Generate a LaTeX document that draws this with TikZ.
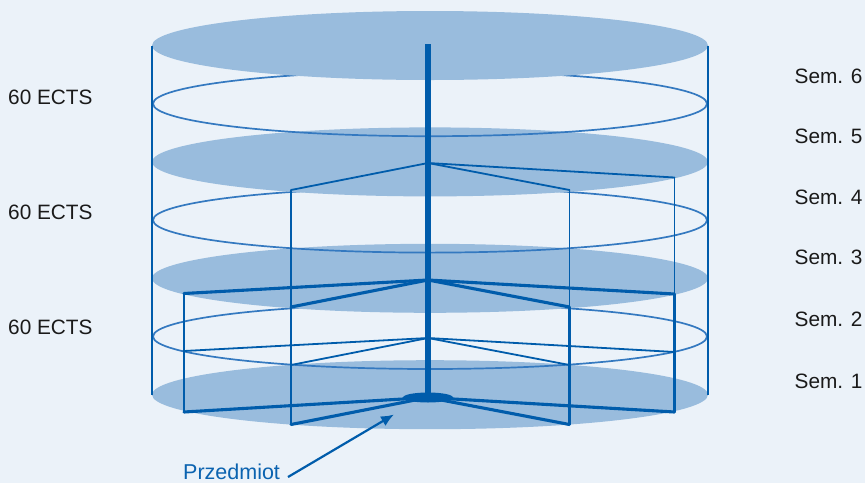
\documentclass[tikz,border=0pt]{standalone}
\usepackage{fontspec}
\setmainfont{Liberation Sans}
\usetikzlibrary{arrows.meta}
\definecolor{bgc}{HTML}{EBF2F9}
\definecolor{discc}{HTML}{99BCDD}
\definecolor{linec}{HTML}{005CAB}
\definecolor{ringc}{HTML}{3479C0}
\definecolor{txtc}{HTML}{1A1A1A}
\definecolor{przc}{HTML}{0B63B0}
\begin{document}
\begin{tikzpicture}[x=1pt,y=-1pt,
  disc/.style={fill=discc, draw=none},
  ring/.style={draw=ringc, line width=1.7pt},
  wall/.style={draw=linec, line width=1.3pt},
  thinedge/.style={draw=linec, line width=1.8pt, line cap=round, line join=round},
  thinvert/.style={draw=linec, line width=1.5pt},
  thickedge/.style={draw=linec, line width=3.1pt, line cap=round, line join=round},
  thickvert/.style={draw=linec, line width=2.5pt},
  lbl/.style={font=\fontsize{20.8}{24}\selectfont, text=txtc, inner sep=0pt, anchor=base west},
]
\fill[bgc] (0,0) rectangle (865,483);
\useasboundingbox (0,0) rectangle (865,483);

% discs and rings, painted from the bottom layer upwards
\fill[disc] (430,394.7) ellipse [x radius=278pt, y radius=34.5pt];
\draw[ring] (430,336.5) ellipse [x radius=277pt, y radius=32.5pt];
\fill[disc] (430,278.3) ellipse [x radius=278pt, y radius=34.5pt];
\draw[ring] (430,220.1) ellipse [x radius=277pt, y radius=32.5pt];
\fill[disc] (430,161.9) ellipse [x radius=278pt, y radius=34.5pt];
\draw[ring] (430,103.7) ellipse [x radius=277pt, y radius=32.5pt];
\fill[disc] (430,45.5) ellipse [x radius=278pt, y radius=34.5pt];

% cylinder walls
\coordinate (wlt) at (152,45.5);
\coordinate (wlb) at (152,394.7);
\coordinate (wrt) at (708,45.5);
\coordinate (wrb) at (708,394.7);
\draw[wall] (wlt) -- (wlb);
\draw[wall] (wrt) -- (wrb);

% prism corners
\coordinate (c5) at (428,163);
\coordinate (fl5) at (291,190);
\coordinate (fr5) at (569.5,190);
\coordinate (r5) at (674.5,177.5);
\coordinate (c3) at (428,280);
\coordinate (l3) at (184,293.5);
\coordinate (fl3) at (291,307);
\coordinate (fr3) at (569.5,307);
\coordinate (r3) at (674.5,294);
\coordinate (c2) at (428,338);
\coordinate (l2) at (184,351);
\coordinate (fl2) at (291,365);
\coordinate (fr2) at (569.5,365);
\coordinate (r2) at (674.5,352);
\coordinate (c1) at (428,397.5);
\coordinate (l1) at (184,412);
\coordinate (fl1) at (291,424.5);
\coordinate (fr1) at (569.5,424.5);
\coordinate (r1) at (674.5,412);
\coordinate (ptop) at (428,44);

% upper (thin) prism
\draw[thinedge] (fl5) -- (c5) -- (fr5);
\draw[thinedge] (c5) -- (r5);
\draw[thinvert] (fl5) -- (fl3);
\draw[thinvert] (fr5) -- (fr3);
\draw[thinvert] (r5) -- (r3);

% middle level
\draw[thinedge] (l2) -- (c2) -- (r2);
\draw[thinedge] (fl2) -- (c2) -- (fr2);

% big prism
\draw[thickvert] (l3) -- (l1);
\draw[thickvert] (r3) -- (r1);
\draw[thickvert] (fl3) -- (fl1);
\draw[thickvert] (fr3) -- (fr1);
\draw[thickedge] (l3) -- (c3) -- (r3);
\draw[thickedge] (fl3) -- (c3) -- (fr3);
\draw[thickedge] (l1) -- (c1) -- (r1);
\draw[thickedge] (fl1) -- (c1) -- (fr1);

% pole
\draw[draw=linec, line width=5.5pt] (ptop) -- (c1);
\fill[linec] (c1) ellipse [x radius=25pt, y radius=5pt];

% labels
\node[lbl] (e1) at (8,104) {60 ECTS};
\node[lbl] (e2) at (8,219) {60 ECTS};
\node[lbl] (e3) at (8,334) {60 ECTS};
\node[lbl] (s6) at (794.5,83) {Sem. 6};
\node[lbl] (s5) at (794.5,143) {Sem. 5};
\node[lbl] (s4) at (794.5,204) {Sem. 4};
\node[lbl] (s3) at (794.5,264) {Sem. 3};
\node[lbl] (s2) at (794.5,326) {Sem. 2};
\node[lbl] (s1) at (794.5,388) {Sem. 1};

\node[lbl, text=przc, font=\fontsize{21.5}{24}\selectfont] (prz) at (183,479) {Przedmiot};
\coordinate (arrstart) at (288,477);
\coordinate (arrtip) at (394,414.5);
\draw[draw=linec, line width=2.2pt, -{Latex[length=13pt,width=11pt]}] (arrstart) -- (arrtip);
\end{tikzpicture}
\end{document}
